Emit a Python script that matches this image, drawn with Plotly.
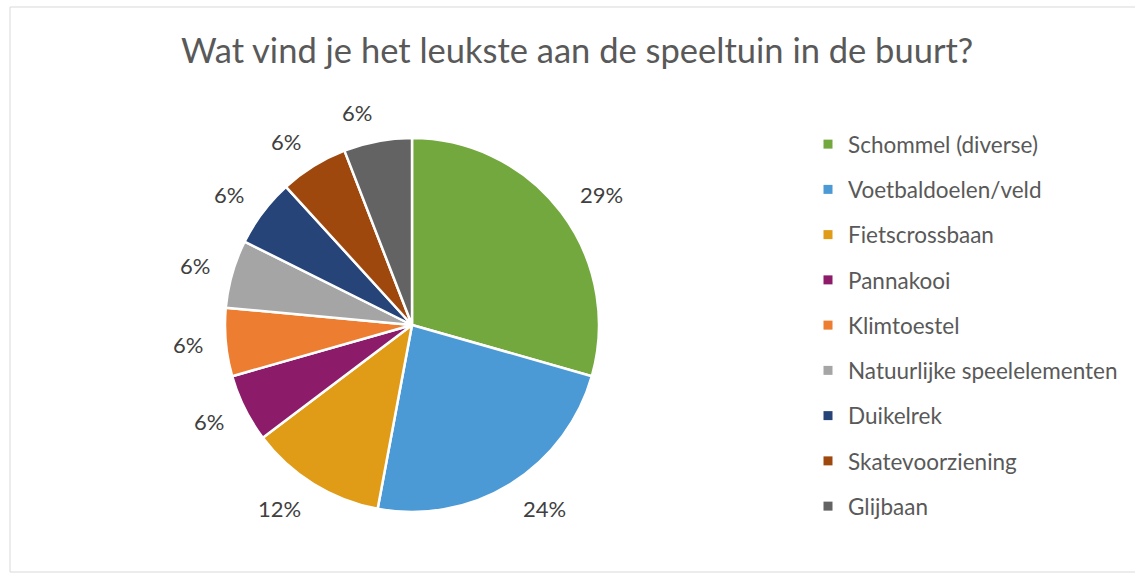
import math
import plotly.graph_objects as go

title = "Wat vind je het leukste aan de speeltuin in de buurt?"
categories = ["Schommel (diverse)", "Voetbaldoelen/veld", "Fietscrossbaan", "Pannakooi",
              "Klimtoestel", "Natuurlijke speelelementen", "Duikelrek", "Skatevoorziening", "Glijbaan"]
counts = [5, 4, 2, 1, 1, 1, 1, 1, 1]
colors = ["#73A83E", "#4B9AD6", "#E09B17", "#8C1B69", "#ED7D31",
          "#A5A5A5", "#264478", "#9E480E", "#636363"]

W, H = 1135, 574
FONT = "Lato"
TXT = "#595959"

# pie geometry (pixels)
cx, cy, r = 412, 325, 187

fig = go.Figure()
fig.add_trace(go.Pie(
    labels=categories, values=counts, sort=False, direction="clockwise", rotation=0,
    marker=dict(colors=colors, line=dict(color="white", width=2.5)),
    textinfo="none", hoverinfo="label+percent", showlegend=False,
    domain=dict(x=[(cx - r) / W, (cx + r) / W], y=[(H - cy - r) / H, (H - cy + r) / H]),
))

# legend entries
for name, col in zip(categories, colors):
    fig.add_trace(go.Scatter(x=[None], y=[None], mode="markers", name=name, legendgroup=name,
                             marker=dict(symbol="square", size=9, color=col)))

# percentage labels placed outside the slices, from the data
total = sum(counts)
cum = 0
annotations = []
for v in counts:
    mid = (cum + v / 2) / total * 2 * math.pi
    cum += v
    sx, sy = math.sin(mid), -math.cos(mid)
    px = cx + (r + 21) * sx
    py = cy + (r + 29) * sy
    annotations.append(dict(x=px / W, y=1 - py / H, xref="paper", yref="paper",
                            text=f"{round(v / total * 100)}%", showarrow=False,
                            font=dict(family=FONT, size=22, color="#404040"),
                            xanchor="left" if sx > 0 else "right", yanchor="middle"))

annotations.append(dict(x=577 / W, y=1 - 50 / H, xref="paper", yref="paper", text=title,
                        showarrow=False, font=dict(family=FONT, size=34.5, color=TXT),
                        xanchor="center", yanchor="middle"))

fig.update_layout(
    width=W, height=H, margin=dict(l=0, r=0, t=0, b=0),
    paper_bgcolor="white", plot_bgcolor="white",
    xaxis=dict(visible=False), yaxis=dict(visible=False),
    annotations=annotations,
    legend=dict(x=808 / W, y=1 - 123 / H, xanchor="left", yanchor="top",
                font=dict(family=FONT, size=22.5, color=TXT), tracegroupgap=13,
                itemwidth=30, bgcolor="rgba(0,0,0,0)"),
    shapes=[dict(type="rect", xref="paper", yref="paper", x0=10 / W, x1=1.01,
                 y0=1 - 572 / H, y1=1 - 7 / H, line=dict(color="#D9D9D9", width=1))],
)

fig.write_html("out.html", config={"displayModeBar": False},
               post_script="document.body.style.margin='0';")
